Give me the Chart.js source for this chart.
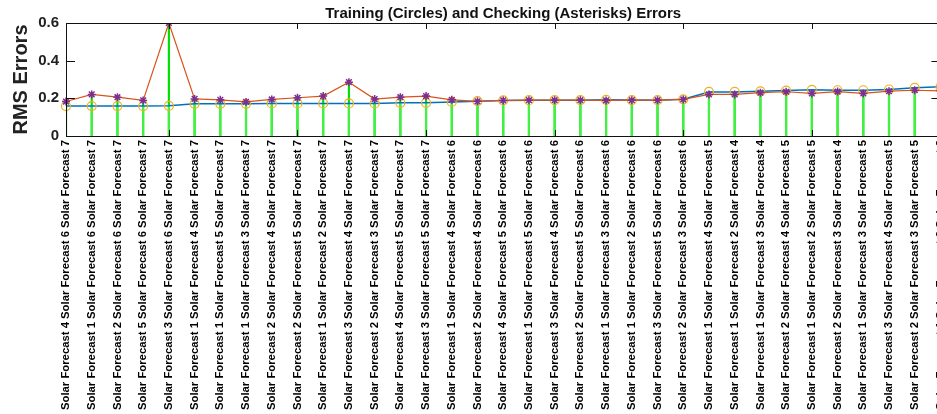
<!DOCTYPE html>
<html>
<head>
<meta charset="utf-8">
<script src="https://cdn.jsdelivr.net/npm/chart.js@4/dist/chart.umd.min.js"></script>
<style>
  html, body { margin: 0; padding: 0; background: #fff; overflow: hidden; }
  #wrap { width: 937px; height: 414px; overflow: hidden; }
</style>
</head>
<body>
<div id="wrap"><canvas id="myChart" width="958" height="414"></canvas></div>
<script>
// input combinations (x categories)
var xLabels = [
  "Solar Forecast 4 Solar Forecast 6 Solar Forecast 7",
  "Solar Forecast 1 Solar Forecast 6 Solar Forecast 7",
  "Solar Forecast 2 Solar Forecast 6 Solar Forecast 7",
  "Solar Forecast 5 Solar Forecast 6 Solar Forecast 7",
  "Solar Forecast 3 Solar Forecast 6 Solar Forecast 7",
  "Solar Forecast 1 Solar Forecast 4 Solar Forecast 7",
  "Solar Forecast 1 Solar Forecast 5 Solar Forecast 7",
  "Solar Forecast 1 Solar Forecast 3 Solar Forecast 7",
  "Solar Forecast 2 Solar Forecast 4 Solar Forecast 7",
  "Solar Forecast 2 Solar Forecast 5 Solar Forecast 7",
  "Solar Forecast 1 Solar Forecast 2 Solar Forecast 7",
  "Solar Forecast 3 Solar Forecast 4 Solar Forecast 7",
  "Solar Forecast 2 Solar Forecast 3 Solar Forecast 7",
  "Solar Forecast 4 Solar Forecast 5 Solar Forecast 7",
  "Solar Forecast 3 Solar Forecast 5 Solar Forecast 7",
  "Solar Forecast 1 Solar Forecast 4 Solar Forecast 6",
  "Solar Forecast 2 Solar Forecast 4 Solar Forecast 6",
  "Solar Forecast 4 Solar Forecast 5 Solar Forecast 6",
  "Solar Forecast 1 Solar Forecast 5 Solar Forecast 6",
  "Solar Forecast 3 Solar Forecast 4 Solar Forecast 6",
  "Solar Forecast 2 Solar Forecast 5 Solar Forecast 6",
  "Solar Forecast 1 Solar Forecast 3 Solar Forecast 6",
  "Solar Forecast 1 Solar Forecast 2 Solar Forecast 6",
  "Solar Forecast 3 Solar Forecast 5 Solar Forecast 6",
  "Solar Forecast 2 Solar Forecast 3 Solar Forecast 6",
  "Solar Forecast 1 Solar Forecast 4 Solar Forecast 5",
  "Solar Forecast 1 Solar Forecast 2 Solar Forecast 4",
  "Solar Forecast 1 Solar Forecast 3 Solar Forecast 4",
  "Solar Forecast 2 Solar Forecast 4 Solar Forecast 5",
  "Solar Forecast 1 Solar Forecast 2 Solar Forecast 5",
  "Solar Forecast 2 Solar Forecast 3 Solar Forecast 4",
  "Solar Forecast 1 Solar Forecast 3 Solar Forecast 5",
  "Solar Forecast 3 Solar Forecast 4 Solar Forecast 5",
  "Solar Forecast 2 Solar Forecast 3 Solar Forecast 5",
  "Solar Forecast 1 Solar Forecast 2 Solar Forecast 3"
];

// training RMS errors (circles)
var trainErr = [0.159, 0.159, 0.159, 0.159, 0.160, 0.171, 0.171, 0.171, 0.173, 0.173,
                0.173, 0.173, 0.173, 0.176, 0.176, 0.181, 0.185, 0.189, 0.190, 0.190,
                0.190, 0.192, 0.191, 0.190, 0.195, 0.234, 0.234, 0.237, 0.241, 0.245,
                0.243, 0.243, 0.247, 0.256, 0.261];

// checking RMS errors (asterisks)
var checkErr = [0.183, 0.221, 0.206, 0.189, 0.600, 0.197, 0.192, 0.181, 0.194, 0.203,
                0.212, 0.286, 0.196, 0.206, 0.212, 0.192, 0.184, 0.189, 0.190, 0.190,
                0.190, 0.189, 0.190, 0.190, 0.194, 0.221, 0.221, 0.230, 0.235, 0.226,
                0.236, 0.226, 0.238, 0.243, 0.240];

var yTicks = [0, 0.2, 0.4, 0.6];

var sans = "'Liberation Sans', Arial, Helvetica, sans-serif";

// matlab style box + inward tick marks
var boxPlugin = {
  id: "box",
  afterDraw: function (chart) {
    var ctx = chart.ctx;
    var a = chart.chartArea;
    var xs = chart.scales.x;
    var ys = chart.scales.y;
    ctx.save();
    ctx.strokeStyle = "#111";
    ctx.lineWidth = 1;
    ctx.strokeRect(Math.round(a.left) + 0.5, Math.round(a.top) + 0.5, Math.round(a.right - a.left), Math.round(a.bottom - a.top));
    ctx.beginPath();
    for (var i = 0; i < yTicks.length; i++) {
      var py = Math.round(ys.getPixelForValue(yTicks[i])) + 0.5;
      ctx.moveTo(a.left, py); ctx.lineTo(a.left + 9, py);
      ctx.moveTo(a.right, py); ctx.lineTo(a.right - 9, py);
    }
    for (var j = 4; j < xLabels.length; j += 5) {
      var px = Math.round(xs.getPixelForValue(j)) + 0.5;
      ctx.moveTo(px, a.top); ctx.lineTo(px, a.top + 6);
      ctx.moveTo(px, a.bottom); ctx.lineTo(px, a.bottom - 6);
    }
    ctx.stroke();
    ctx.restore();
  }
};

function makeChart() {
  new Chart("myChart", {
    type: "line",
    data: {
      labels: xLabels,
      datasets: [{
        label: "Checking",
        data: checkErr,
        borderColor: "#D95319",
        borderWidth: 1.2,
        pointStyle: "star",
        pointRadius: 4,
        pointBorderColor: "#7E2F8E",
        pointBorderWidth: 1.5,
        pointBackgroundColor: "#7E2F8E",
        order: 1
      }, {
        label: "Training",
        data: trainErr,
        borderColor: "#0072BD",
        borderWidth: 1.5,
        pointStyle: "circle",
        pointRadius: 4.5,
        pointBorderColor: "#EDB120",
        pointBorderWidth: 1.2,
        pointBackgroundColor: "rgba(0,0,0,0)",
        order: 2
      }, {
        type: "bar",
        label: "stem train",
        data: trainErr,
        backgroundColor: "#44f044",
        barThickness: 1.5,
        grouped: false,
        order: 3
      }, {
        type: "bar",
        label: "stem check",
        data: checkErr,
        backgroundColor: "#00e000",
        barThickness: 1.5,
        grouped: false,
        order: 4
      }]
    },
    options: {
      responsive: false,
      animation: false,
      devicePixelRatio: 1,
      layout: { padding: { left: 0, right: 0, top: 0, bottom: 0 } },
      plugins: {
        legend: { display: false },
        tooltip: { enabled: false },
        title: {
          display: true,
          text: "Training (Circles) and Checking (Asterisks) Errors",
          fullSize: false,
          color: "#111",
          font: { family: sans, size: 15, weight: "bold" },
          padding: { top: 5, bottom: 0 }
        }
      },
      scales: {
        x: {
          type: "category",
          offset: false,
          grid: { display: false, offset: false, drawTicks: false },
          border: { display: false },
          ticks: {
            autoSkip: false,
            minRotation: 90,
            maxRotation: 90,
            padding: 4,
            color: "#000",
            font: { family: sans, size: 11.3, weight: "bold" }
          },
          afterFit: function (scale) { scale.height = 278; }
        },
        y: {
          min: 0,
          max: 0.6,
          grid: { display: false, drawTicks: false },
          border: { display: false },
          ticks: {
            stepSize: 0.2,
            padding: 7,
            color: "#222",
            font: { family: sans, size: 15, weight: "bold" }
          },
          title: {
            display: true,
            text: "RMS Errors",
            color: "#222",
            font: { family: sans, size: 20, weight: "bold" },
            padding: { top: 9, bottom: 0 }
          },
          afterFit: function (scale) { scale.width = 66; }
        }
      }
    },
    plugins: [boxPlugin]
  });
}

makeChart();
</script>
</body>
</html>
